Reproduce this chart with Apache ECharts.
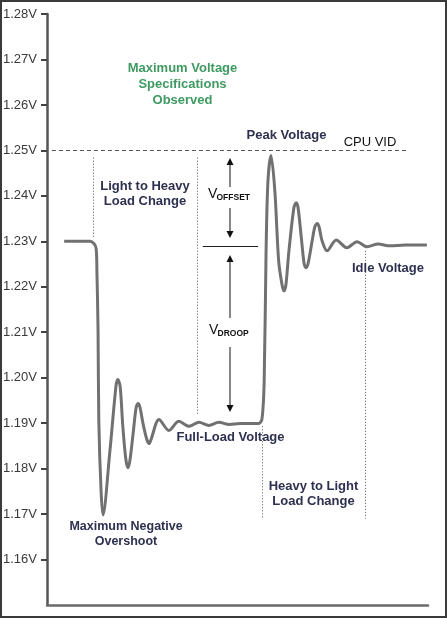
<!DOCTYPE html>
<html>
<head>
<meta charset="utf-8">
<script src="https://cdn.jsdelivr.net/npm/echarts@6/dist/echarts.min.js"></script>
<style>
html,body{margin:0;padding:0;background:#fff;}
#c{width:447px;height:618px;}
</style>
</head>
<body>
<div id="c"></div>
<script>
// time (arbitrary units) and voltage of the waveform
const time = [4.5, 11.3, 12.3, 12.9, 13.1, 13.4, 13.6, 14.2, 14.7, 16.5, 18.1, 18.6, 19.2, 19.9, 20.7, 21.3, 21.8, 22.6, 23.4, 23.9, 24.4, 25.2, 26.2, 26.8, 27.3, 29.4, 32.0, 34.6, 37.3, 39.9, 42.5, 45.1, 47.8, 50.7, 55.4, 56.4, 57.0, 57.5, 58.0, 58.8, 59.8, 60.8, 61.7, 62.2, 62.7, 63.5, 64.8, 65.4, 65.9, 66.7, 67.5, 68.0, 68.5, 69.6, 70.3, 70.9, 71.4, 72.2, 73.5, 75.9, 78.7, 81.4, 84.0, 86.9, 90.0, 94.0, 99.7];
const volts = [1.2300, 1.2300, 1.2295, 1.2284, 1.2235, 1.2102, 1.1904, 1.1749, 1.1698, 1.1838, 1.1981, 1.1996, 1.1981, 1.1893, 1.1820, 1.1802, 1.1820, 1.1877, 1.1935, 1.1943, 1.1935, 1.1899, 1.1864, 1.1855, 1.1864, 1.1908, 1.1884, 1.1904, 1.1893, 1.1902, 1.1895, 1.1902, 1.1897, 1.1899, 1.1899, 1.1908, 1.1992, 1.2279, 1.2434, 1.2489, 1.2411, 1.2257, 1.2204, 1.2191, 1.2204, 1.2279, 1.2374, 1.2385, 1.2374, 1.2312, 1.2250, 1.2242, 1.2250, 1.2301, 1.2332, 1.2339, 1.2332, 1.2301, 1.2279, 1.2303, 1.2286, 1.2299, 1.2288, 1.2294, 1.2290, 1.2292, 1.2292];
const yTicks = [1.16, 1.17, 1.18, 1.19, 1.20, 1.21, 1.22, 1.23, 1.24, 1.25, 1.26, 1.27, 1.28];
const cpuVid = 1.25;
// vertical dotted guide lines: [time, vFrom, vTo]
const guides = [[12.1, 1.2484, 1.2308], [39.4, 1.2484, 1.1919], [56.4, 1.1893, 1.1690], [83.5, 1.2279, 1.1690]];

const FONT = '"Liberation Sans", Arial, sans-serif';
const NAVY = '#2e3050';
const GREEN = '#3f9a62';

const chart = echarts.init(document.getElementById('c'), null, {renderer: 'canvas'});

const markData = [
  [{coord: [1.3, cpuVid], lineStyle: {type: [4, 3], color: '#555', width: 1}}, {coord: [94.5, cpuVid]}],
  [{coord: [40.9, 1.2290], lineStyle: {type: 'solid', color: '#222', width: 1}}, {coord: [55.4, 1.2290]}]
];
guides.forEach(g => {
  markData.push([{coord: [g[0], g[1]], lineStyle: {type: [1, 2], color: '#555', width: 1}}, {coord: [g[0], g[2]]}]);
});

function txt(x, y, text, size, color, weight, align) {
  return {type: 'text', x: x, y: y, z: 10, style: {text: text, font: (weight || 'normal') + ' ' + size + 'px ' + FONT, fill: color, align: align || 'center', verticalAlign: 'middle'}};
}
function arrow(x, y1, y2) { // line from y1 to tip at y2
  const dir = y2 > y1 ? 1 : -1;
  return [
    {type: 'line', z: 10, shape: {x1: x, y1: y1, x2: x, y2: y2 - dir * 5}, style: {stroke: '#111', lineWidth: 1}},
    {type: 'polygon', z: 10, shape: {points: [[x - 3.5, y2 - dir * 7], [x + 3.5, y2 - dir * 7], [x, y2]]}, style: {fill: '#111'}}
  ];
}

const graphics = [
  txt(182.5, 68, 'Maximum Voltage', 13, GREEN, 'bold'),
  txt(182.5, 84, 'Specifications', 13, GREEN, 'bold'),
  txt(182.5, 100, 'Observed', 13, GREEN, 'bold'),
  txt(286.5, 135, 'Peak Voltage', 13, NAVY, 'bold'),
  txt(370, 142, 'CPU VID', 13, '#111', 'normal'),
  txt(145, 186, 'Light to Heavy', 13, NAVY, 'bold'),
  txt(145, 201, 'Load Change', 13, NAVY, 'bold'),
  txt(388, 268, 'Idle Voltage', 13, NAVY, 'bold'),
  txt(230.5, 437, 'Full-Load Voltage', 13, NAVY, 'bold'),
  txt(313.5, 486, 'Heavy to Light', 13, NAVY, 'bold'),
  txt(313.5, 501, 'Load Change', 13, NAVY, 'bold'),
  txt(126, 527, 'Maximum Negative', 12.5, NAVY, 'bold'),
  txt(126, 542, 'Overshoot', 12.5, NAVY, 'bold'),
  txt(208, 194, 'V', 14, '#111', 'normal', 'left'),
  txt(216.5, 198, 'OFFSET', 8.5, '#111', 'bold', 'left'),
  txt(209, 330, 'V', 14, '#111', 'normal', 'left'),
  txt(217.5, 334, 'DROOP', 8.5, '#111', 'bold', 'left'),
  ...arrow(230, 187, 158),
  ...arrow(230, 208, 238),
  ...arrow(230, 318, 255),
  ...arrow(230, 347, 412),
  {type: 'rect', z: 20, shape: {x: 1, y: 1, width: 445, height: 616}, style: {fill: 'none', stroke: '#3a3a3a', lineWidth: 2}}
];

chart.setOption({
  animation: false,
  backgroundColor: '#fff',
  grid: {left: 47, right: 19, top: 14, bottom: 13, containLabel: false},
  xAxis: {
    type: 'value', min: 0, max: 100,
    axisLine: {show: true, lineStyle: {color: '#6a6a6a', width: 2.5}},
    axisTick: {show: false}, axisLabel: {show: false}, splitLine: {show: false}
  },
  yAxis: {
    type: 'value', min: 1.15, max: 1.28, interval: 0.01,
    axisLine: {show: true, lineStyle: {color: '#555', width: 2.5}},
    axisTick: {show: true, length: 6, lineStyle: {color: '#444', width: 2}},
    axisLabel: {
      showMinLabel: false, margin: 10, color: '#3a3a3a', fontSize: 13, fontFamily: FONT,
      formatter: v => (yTicks.some(t => Math.abs(t - v) < 1e-6) ? v.toFixed(2) + 'V' : '')
    },
    splitLine: {show: false}
  },
  series: [{
    type: 'line',
    data: time.map((t, i) => [t, volts[i]]),
    showSymbol: false,
    smooth: 0.3,
    lineStyle: {color: '#717171', width: 3},
    markLine: {silent: true, symbol: 'none', label: {show: false}, data: markData}
  }],
  graphic: graphics
});
</script>
</body>
</html>
